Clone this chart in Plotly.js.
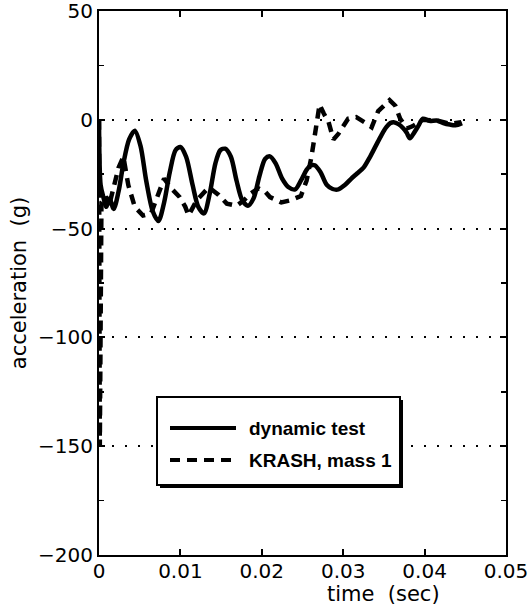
<!DOCTYPE html>
<html>
<head>
<meta charset="utf-8">
<script src="https://cdn.plot.ly/plotly-3.0.1.min.js"></script>
<style>html,body{margin:0;padding:0;background:#fff;}#chart{width:532px;height:612px;}</style>
</head>
<body>
<div id="chart"></div>
<script>
// dynamic test (solid)
const testTime = [0, 0.0002, 0.0005, 0.0009, 0.0013, 0.0018, 0.0024, 0.003, 0.0037, 0.0044, 0.0051, 0.0058, 0.0066, 0.0073, 0.008, 0.0087, 0.0094, 0.0100, 0.0107, 0.0115, 0.0122, 0.0129, 0.0136, 0.0143, 0.0149, 0.0155, 0.0162, 0.0169, 0.0176, 0.0183, 0.019, 0.0197, 0.0204, 0.0210, 0.0217, 0.0225, 0.0233, 0.0241, 0.0248, 0.0255, 0.0260, 0.0265, 0.0272, 0.0280, 0.0287, 0.0294, 0.0302, 0.031, 0.0317, 0.0325, 0.0333, 0.0340, 0.0347, 0.0353, 0.0358, 0.0362, 0.0368, 0.0374, 0.0378, 0.0382, 0.0387, 0.0392, 0.0398, 0.0406, 0.0415, 0.0423, 0.0431, 0.0438, 0.0446];
const testAccel = [0, -30, -35, -40, -36, -41, -33, -20, -9, -5, -12, -28, -42, -46.5, -38, -24, -14, -12.5, -17, -30, -40, -43, -34, -20, -14, -13.3, -17, -28, -37, -39.5, -36, -26, -18, -16.8, -20, -27, -31, -32, -28, -23, -21, -20.9, -24, -30, -31.8, -32, -30, -27, -24.7, -22, -17, -12, -7, -3.4, -1.5, -1.1, -2, -4, -6, -8.5, -6, -3, 0.5, -0.5, -0.3, -1.5, -2.2, -2.5, -1.5];

// KRASH, mass 1 (dashed)
const krashTime = [0, 0.0001, 0.0003, 0.0008, 0.0012, 0.0018, 0.0024, 0.003, 0.0036, 0.0044, 0.0054, 0.0064, 0.0072, 0.008, 0.009, 0.0099, 0.0106, 0.011, 0.012, 0.0135, 0.0147, 0.0157, 0.0169, 0.0178, 0.0186, 0.0196, 0.0204, 0.021, 0.0224, 0.0235, 0.0248, 0.0255, 0.0261, 0.0266, 0.0271, 0.0276, 0.0282, 0.0288, 0.0294, 0.0306, 0.0316, 0.0329, 0.0335, 0.0343, 0.0350, 0.0357, 0.0364, 0.037, 0.0378, 0.0385, 0.0398, 0.0415, 0.0431, 0.0445];
const krashAccel = [0, -150, -38, -35, -40, -30, -22, -17, -30, -40, -44, -43, -35, -27, -32, -35.5, -40, -44, -37, -31, -34.5, -38.5, -39.5, -37, -34, -31.5, -33, -35.5, -38, -37, -35, -28, -17, -4, 7, 3, -1, -9, -6.5, 0.5, 1.2, -1.8, -3.4, 4, 6.5, 9, 6.5, 0.5, -4, -3, 0, -0.3, -1.8, -1.1];

const seriesNames = ['dynamic test', 'KRASH, mass 1'];
const xTickVals = [0, 0.01, 0.02, 0.03, 0.04, 0.05];
const xTickText = ['0', '0.01', '0.02', '0.03', '0.04', '0.05'];
const yTickVals = [50, 0, -50, -100, -150, -200];

const tickFont = {family: 'DejaVu Sans', size: 20, color: '#000'};
const dashPattern = '10px,7px';

const traces = [
  {x: testTime, y: testAccel, name: seriesNames[0], type: 'scatter', mode: 'lines', showlegend: false,
   line: {color: '#000', width: 4.5, shape: 'spline', smoothing: 0.8}},
  {x: krashTime, y: krashAccel, name: seriesNames[1], type: 'scatter', mode: 'lines', showlegend: false,
   line: {color: '#000', width: 4.5, dash: dashPattern}}
];

// legend box drawn in paper coordinates (plot area: x 99..506 px, y 11..555 px)
const px = v => (v - 99) / 407;
const py = v => (555 - v) / 544;
const legendFont = {family: 'Liberation Sans, Arial', size: 19, weight: 'bold', color: '#000'};

const shapes = [
  {type: 'rect', xref: 'paper', yref: 'paper', x0: px(160), x1: px(403), y0: py(400), y1: py(488),
   fillcolor: '#000', line: {width: 0}},
  {type: 'rect', xref: 'paper', yref: 'paper', x0: px(157), x1: px(400), y0: py(397), y1: py(485),
   fillcolor: '#fff', line: {color: '#000', width: 2}},
  {type: 'line', xref: 'paper', yref: 'paper', x0: px(170), x1: px(236), y0: py(428), y1: py(428),
   line: {color: '#000', width: 4}},
  {type: 'line', xref: 'paper', yref: 'paper', x0: px(170), x1: px(236), y0: py(460), y1: py(460),
   line: {color: '#000', width: 4, dash: dashPattern}}
];

const layout = {
  width: 532, height: 612,
  margin: {l: 99, r: 26, t: 11, b: 57},
  paper_bgcolor: '#fff', plot_bgcolor: '#fff',
  showlegend: false,
  xaxis: {
    range: [0, 0.05], tickvals: xTickVals, ticktext: xTickText,
    ticks: 'inside', ticklen: 6, tickwidth: 2, tickcolor: '#000',
    showline: true, linewidth: 2, linecolor: '#000', mirror: 'ticks',
    showgrid: false, zeroline: false, tickfont: tickFont,
    ticklabelstandoff: -3, ticklabeloverflow: 'allow'
  },
  yaxis: {
    range: [-200, 50], tickvals: yTickVals,
    ticks: 'inside', ticklen: 6, tickwidth: 2, tickcolor: '#000',
    showline: true, linewidth: 2, linecolor: '#000', mirror: 'ticks',
    showgrid: true, gridcolor: '#000', gridwidth: 2, griddash: '2px,11px',
    zeroline: false, tickfont: tickFont, ticklabeloverflow: 'allow',
    minor: {dtick: 25, ticks: 'inside', ticklen: 5, tickwidth: 1.5, tickcolor: '#000', showgrid: false},
    title: {text: 'acceleration  (g)', font: {family: 'DejaVu Sans', size: 21, color: '#000'}, standoff: 6}
  },
  shapes: shapes,
  annotations: [
    {text: 'time  (sec)', xref: 'paper', yref: 'paper', x: 0.70, y: py(594),
     xanchor: 'center', yanchor: 'middle', showarrow: false,
     font: {family: 'DejaVu Sans', size: 21, color: '#000'}},
    {text: seriesNames[0], xref: 'paper', yref: 'paper', x: px(247), y: py(428),
     xanchor: 'left', yanchor: 'middle', showarrow: false, font: legendFont},
    {text: seriesNames[1], xref: 'paper', yref: 'paper', x: px(247), y: py(460),
     xanchor: 'left', yanchor: 'middle', showarrow: false, font: legendFont}
  ]
};

Plotly.newPlot('chart', traces, layout, {displayModeBar: false, staticPlot: true});
</script>
</body>
</html>
